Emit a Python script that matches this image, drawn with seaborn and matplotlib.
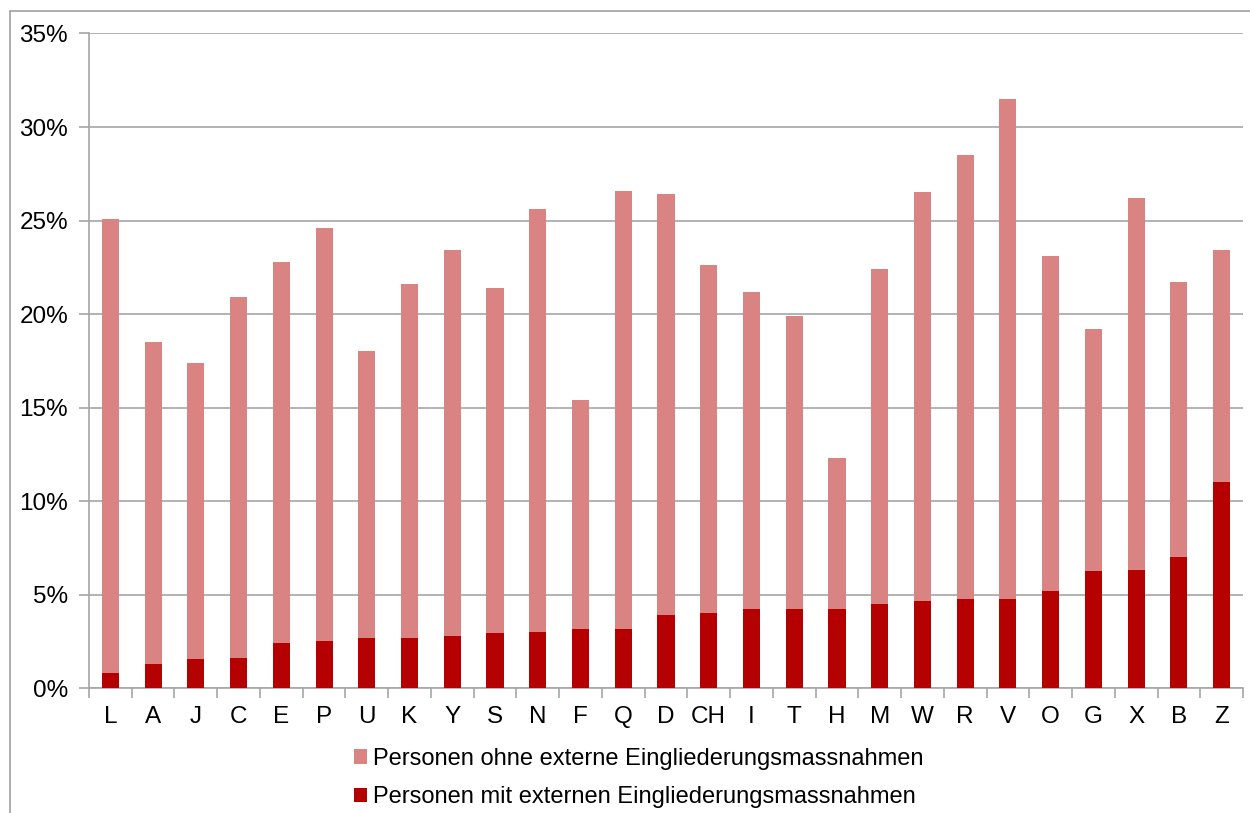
import matplotlib
matplotlib.use("Agg")
import matplotlib.pyplot as plt
from matplotlib.patches import Rectangle, Patch
from matplotlib.ticker import FuncFormatter, FixedLocator
import numpy as np
import pandas as pd
import seaborn as sns

# Data (percent of persons)
regions = ["L", "A", "J", "C", "E", "P", "U", "K", "Y", "S", "N", "F", "Q", "D",
           "CH", "I", "T", "H", "M", "W", "R", "V", "O", "G", "X", "B", "Z"]
total_pct = [25.1, 18.5, 17.4, 20.9, 22.8, 24.6, 18.0, 21.6, 23.4, 21.4, 25.6, 15.4,
             26.6, 26.4, 22.6, 21.2, 19.9, 12.3, 22.4, 26.5, 28.5, 31.5, 23.1, 19.2,
             26.2, 21.7, 23.4]
with_measures_pct = [0.8, 1.3, 1.55, 1.6, 2.4, 2.5, 2.65, 2.7, 2.8, 2.95, 3.0, 3.15,
                     3.15, 3.9, 4.0, 4.2, 4.2, 4.25, 4.5, 4.65, 4.75, 4.75, 5.2, 6.25,
                     6.3, 7.0, 11.0]
series_labels = ["Personen ohne externe Eingliederungsmassnahmen",
                 "Personen mit externen Eingliederungsmassnahmen"]

LIGHT = "#D98383"
DARK = "#B40000"
GRID = "#A6A6A6"

df = pd.DataFrame({"region": regions, "total": total_pct, "with": with_measures_pct})

sns.set_theme(style="white")
plt.rcParams["font.family"] = ["Liberation Sans", "DejaVu Sans"]

fig = plt.figure(figsize=(12.5, 8.13), dpi=100)
ax = fig.add_axes([0.0712, 0.1537, 0.9232, 0.8051])

# outer chart frame
fig.patches.append(Rectangle((0.008, -0.1), 1.2, 0.9865 + 0.1, transform=fig.transFigure,
                             fill=False, edgecolor="#A0A0A0", linewidth=1.2, zorder=0))

# stacked bars: total (light) behind, with-measures (dark) on top
sns.barplot(data=df, x="region", y="total", order=regions, color=LIGHT, saturation=1,
            width=0.4, linewidth=0, ax=ax, zorder=2)
sns.barplot(data=df, x="region", y="with", order=regions, color=DARK, saturation=1,
            width=0.4, linewidth=0, ax=ax, zorder=3)

ax.set_xlim(-0.5, len(regions) - 0.5)
ax.set_ylim(0, 35)
ax.set_yticks(np.arange(0, 36, 5))
ax.yaxis.set_major_formatter(FuncFormatter(lambda v, p: f"{v:.0f}%"))
ax.set_xlabel("")
ax.set_ylabel("")

ax.grid(axis="y", color=GRID, linewidth=1.2, zorder=0)
ax.set_axisbelow(True)
for side in ["top", "right"]:
    ax.spines[side].set_visible(False)
for side in ["left", "bottom"]:
    ax.spines[side].set_color(GRID)
    ax.spines[side].set_linewidth(1.2)

# category separators as minor tick marks on the x axis
ax.xaxis.set_minor_locator(FixedLocator(np.arange(-0.5, len(regions), 1.0)))
ax.tick_params(axis="x", which="major", length=0, pad=13, labelsize=17.5, labelcolor="black")
ax.tick_params(axis="x", which="minor", bottom=True, length=7, width=1.2, color=GRID)
ax.tick_params(axis="y", which="major", left=True, length=7, width=1.2, color=GRID,
               labelsize=17.5, labelcolor="black", pad=8)

handles = [Patch(facecolor=LIGHT, edgecolor="none"), Patch(facecolor=DARK, edgecolor="none")]
fig.legend(handles, series_labels, loc="center", bbox_to_anchor=(0.511, 0.043), ncol=1,
           frameon=False, fontsize=17, labelcolor="black", handlelength=0.55,
           handleheight=0.55, handletextpad=0.25, labelspacing=0.7)

fig.savefig("out.png", dpi=100)
